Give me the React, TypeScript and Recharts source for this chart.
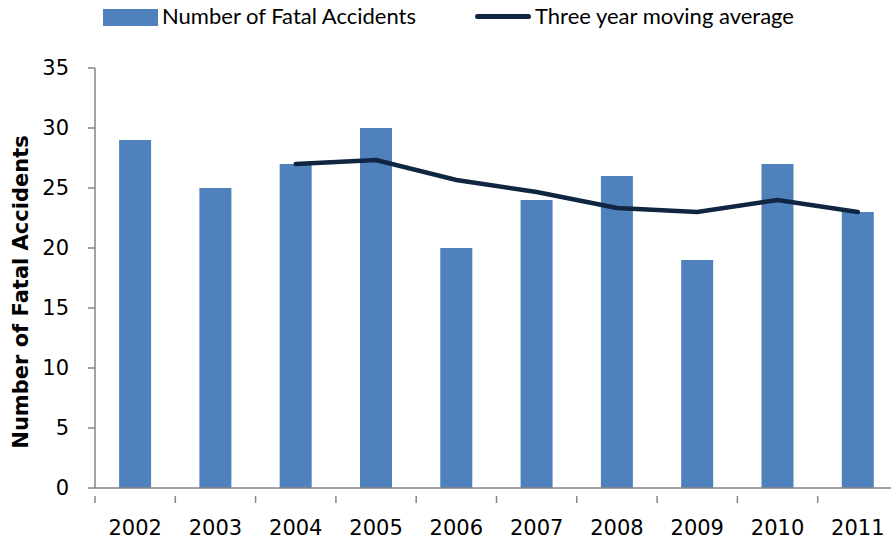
import React from "react";
import { ComposedChart, Bar, Line, XAxis, YAxis } from "recharts";

const years = ["2002", "2003", "2004", "2005", "2006", "2007", "2008", "2009", "2010", "2011"];
const fatalAccidents = [29, 25, 27, 30, 20, 24, 26, 19, 27, 23];
const movingAverage = [null, null, 27, 27.33, 25.67, 24.67, 23.33, 23, 24, 23];
const yTicks = [0, 5, 10, 15, 20, 25, 30, 35];

const BAR_COLOR = "#4F81BD";
const LINE_COLOR = "#10253F";
const AXIS_COLOR = "#868686";
const LEGEND_FONT = "Lato, 'Open Sans', sans-serif";
const AXIS_FONT = "'DejaVu Sans', sans-serif";

const data = years.map((year, i) => ({
  year,
  accidents: fatalAccidents[i],
  average: movingAverage[i],
}));

// Excel-style category ticks: the mark sits on the boundary, the label in the middle
function YearTick(props: any) {
  const { x, y, payload } = props;
  const half = payload.offset ?? 0;
  return (
    <g>
      <line x1={x - half} x2={x - half} y1={y} y2={y + 7} stroke={AXIS_COLOR} strokeWidth={1.5} />
      <text
        x={x}
        y={y + 32}
        textAnchor="middle"
        dominantBaseline="central"
        fill="#000"
        fontSize={21}
        fontFamily={AXIS_FONT}
      >
        {payload.value}
      </text>
    </g>
  );
}

function ChartLegend() {
  const text: React.CSSProperties = { fontFamily: LEGEND_FONT, fontSize: 22, color: "#000", lineHeight: "24px" };
  return (
    <div style={{ position: "absolute", left: 0, top: 0, width: 891, height: 34 }}>
      <div style={{ position: "absolute", left: 103, top: 9, width: 55, height: 17, background: BAR_COLOR }} />
      <div style={{ ...text, position: "absolute", left: 162, top: 4 }}>Number of Fatal Accidents</div>
      <div style={{ position: "absolute", left: 475, top: 14, width: 56, height: 5, borderRadius: 3, background: LINE_COLOR }} />
      <div style={{ ...text, position: "absolute", left: 535, top: 4 }}>Three year moving average</div>
    </div>
  );
}

export default function App(): React.JSX.Element {
  return (
    <div style={{ position: "absolute", left: 0, top: 0, width: 891, height: 535, overflow: "hidden", background: "#fff" }}>
      <ChartLegend />
      <ComposedChart
        width={910}
        height={535}
        data={data}
        margin={{ top: 68, right: 12, bottom: 0, left: 0 }}
        barCategoryGap="30%"
      >
        <XAxis
          dataKey="year"
          height={47}
          axisLine={{ stroke: AXIS_COLOR, strokeWidth: 1.5 }}
          tickLine={false}
          tick={<YearTick />}
          interval={0}
        />
        <YAxis
          width={95}
          domain={[0, 35]}
          ticks={yTicks}
          interval={0}
          axisLine={{ stroke: AXIS_COLOR, strokeWidth: 1.5 }}
          tickLine={{ stroke: AXIS_COLOR, strokeWidth: 1.5 }}
          tickSize={7}
          tickMargin={19}
          tick={{ fill: "#000", fontSize: 21, fontFamily: AXIS_FONT }}
          label={{
            value: "Number of Fatal Accidents",
            angle: -90,
            position: "center",
            dx: -27,
            dy: 14,
            style: { fontFamily: AXIS_FONT, fontSize: 21, fontWeight: 700, fill: "#000" },
          }}
        />
        <Bar dataKey="accidents" fill={BAR_COLOR} isAnimationActive={false} />
        <Line
          dataKey="average"
          stroke={LINE_COLOR}
          strokeWidth={4.5}
          dot={false}
          activeDot={false}
          strokeLinecap="round"
          isAnimationActive={false}
        />
      </ComposedChart>
    </div>
  );
}
